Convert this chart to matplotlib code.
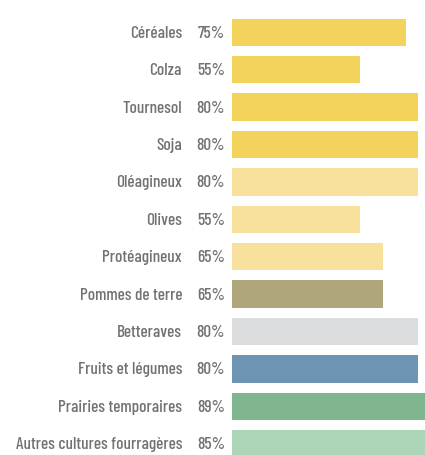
import matplotlib
matplotlib.use("Agg")
import matplotlib.pyplot as plt
from matplotlib.transforms import blended_transform_factory

# Part of each crop's production that is covered (%)
cultures = ["Céréales", "Colza", "Tournesol", "Soja", "Oléagineux", "Olives",
            "Protéagineux", "Pommes de terre", "Betteraves", "Fruits et légumes",
            "Prairies temporaires", "Autres cultures fourragères"]
parts = [75, 55, 80, 80, 80, 55, 65, 65, 80, 80, 89, 85]
couleurs = ["#F3D35C", "#F3D35C", "#F3D35C", "#F3D35C",
            "#F7E19C", "#F7E19C", "#F7E19C",
            "#AFA67B", "#DBDCDD", "#6E94B3", "#7FB68F", "#ADD6B8"]

W, H = 425, 456
fig = plt.figure(figsize=(W / 100, H / 100), dpi=100)
x0 = 232 / W
ax = fig.add_axes([x0, 0, 1 - x0, 1])

row = 37.4
top = 33.3
ys = list(range(len(cultures)))
ax.barh(ys, parts, height=27.5 / row, color=couleurs, left=0)
ax.set_xlim(0, (W - 232) / 2.325)
ax.set_ylim((H - top) / row, -top / row)
ax.axis("off")

font = dict(family=["Barlow Condensed", "DejaVu Sans"], fontsize=12.4,
            weight="medium", color="#727272", va="center")
tr = blended_transform_factory(fig.transFigure, ax.transData)
for y, nom, p in zip(ys, cultures, parts):
    ax.text(182 / W, y, nom, ha="right", transform=tr, clip_on=False, **font)
    ax.text(225 / W, y, f"{p}%", ha="right", transform=tr, clip_on=False, **font)

fig.savefig("out.png", dpi=100)
